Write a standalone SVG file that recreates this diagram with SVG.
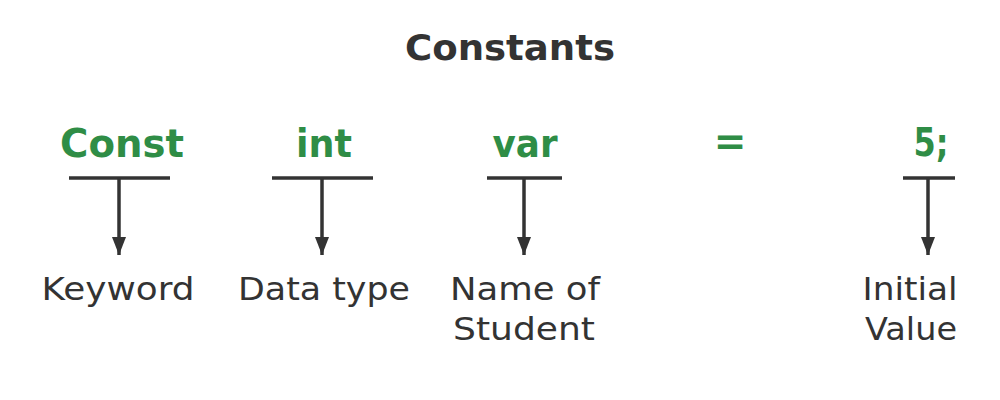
<svg xmlns="http://www.w3.org/2000/svg" width="1000" height="400" viewBox="0 0 1000 400">
<defs>
<marker id="ah" markerWidth="18" markerHeight="14" refX="18" refY="7" orient="auto" markerUnits="userSpaceOnUse" viewBox="0 0 18 14">
<path d="M0,0 L18,7 L0,14 Z" fill="#333"/>
</marker>
<style>
.title{font-family:"DejaVu Sans","Open Sans",sans-serif;font-weight:700;font-size:36px;fill:#333;text-anchor:middle}
.code{font-family:"DejaVu Sans","Open Sans",sans-serif;font-weight:700;font-size:39px;fill:#2f8d46;text-anchor:middle}
.lbl{font-family:"DejaVu Sans","Open Sans",sans-serif;font-size:32px;fill:#333;text-anchor:middle}
.bar{stroke:#333;stroke-width:3.5;fill:none}
.arr{stroke:#333;stroke-width:3.5;fill:none;marker-end:url(#ah)}
</style>
</defs>
<rect width="1000" height="400" fill="#fff"/>
<text class="title" x="510" y="60" textLength="210" lengthAdjust="spacingAndGlyphs">Constants</text>
<g id="n-const">
<text class="code" x="122" y="157" textLength="124" lengthAdjust="spacingAndGlyphs">Const</text>
<text class="lbl" x="118" y="300" textLength="153" lengthAdjust="spacingAndGlyphs">Keyword</text>
</g>
<g id="n-int">
<text class="code" x="324" y="157" textLength="56" lengthAdjust="spacingAndGlyphs">int</text>
<text class="lbl" x="324" y="300" textLength="172" lengthAdjust="spacingAndGlyphs">Data type</text>
</g>
<g id="n-var">
<text class="code" x="525" y="157" textLength="65" lengthAdjust="spacingAndGlyphs">var</text>
<text class="lbl" x="525" y="300" textLength="150" lengthAdjust="spacingAndGlyphs">Name of</text>
<text class="lbl" x="524" y="340" textLength="142" lengthAdjust="spacingAndGlyphs">Student</text>
</g>
<g id="n-eq">
<text class="code" x="730" y="155">=</text>
</g>
<g id="n-val">
<text class="code" x="931" y="156" textLength="35" lengthAdjust="spacingAndGlyphs">5;</text>
<text class="lbl" x="910" y="300" textLength="95" lengthAdjust="spacingAndGlyphs">Initial</text>
<text class="lbl" x="911" y="340" textLength="92" lengthAdjust="spacingAndGlyphs">Value</text>
</g>
<g id="connectors">
<line class="bar" x1="69" y1="178" x2="170" y2="178"/>
<line class="arr" x1="119" y1="178" x2="119" y2="255"/>
<line class="bar" x1="272" y1="178" x2="373" y2="178"/>
<line class="arr" x1="322" y1="178" x2="322" y2="255"/>
<line class="bar" x1="487" y1="178" x2="562" y2="178"/>
<line class="arr" x1="524" y1="178" x2="524" y2="255"/>
<line class="bar" x1="903" y1="178" x2="955" y2="178"/>
<line class="arr" x1="928" y1="178" x2="928" y2="255"/>
</g>
</svg>
